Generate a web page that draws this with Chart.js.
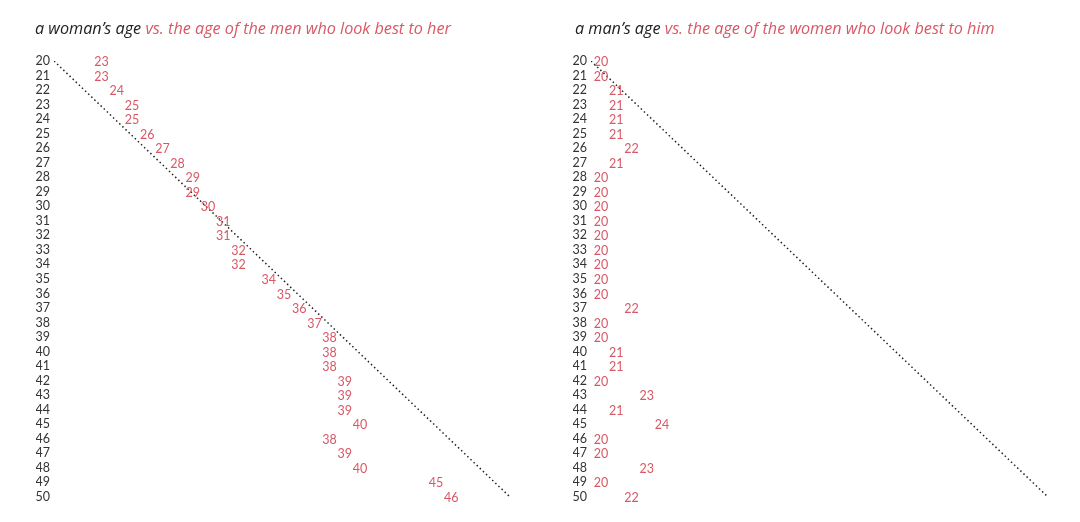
<!DOCTYPE html>
<html lang="en">
<head>
  <meta charset="UTF-8" />
  <title>Age preferences</title>
  <script src="https://cdn.jsdelivr.net/npm/chart.js"></script>
  <style>
    body {
      margin: 0;
      background: #fff;
      font-family: 'Open Sans', 'Noto Sans', sans-serif;
    }
    .panel {
      position: absolute;
      top: 0;
      width: 540px;
      height: 522px;
    }
    .panel canvas {
      position: absolute;
      left: 0;
      top: 0;
    }
    .title {
      position: absolute;
      top: 17px;
      font-size: 16.2px;
      font-style: italic;
      white-space: nowrap;
      color: #222;
    }
    .title span { color: #d95866; }
  </style>
</head>
<body>
  <div class="panel" style="left:0">
    <canvas id="womenChart" width="540" height="522"></canvas>
    <div class="title" style="left:35px">a woman’s age <span>vs. the age of the men who look best to her</span></div>
  </div>
  <div class="panel" style="left:540px">
    <canvas id="menChart" width="540" height="522"></canvas>
    <div class="title" style="left:35px">a man’s age <span>vs. the age of the women who look best to him</span></div>
  </div>

  <script>
    // own age (rows)
    const ages = [20, 21, 22, 23, 24, 25, 26, 27, 28, 29, 30, 31, 32, 33, 34, 35,
                  36, 37, 38, 39, 40, 41, 42, 43, 44, 45, 46, 47, 48, 49, 50];
    // age of men who look best to a woman of that age
    const menBestToWomen = [23, 23, 24, 25, 25, 26, 27, 28, 29, 29, 30, 31, 31, 32, 32, 34,
                            35, 36, 37, 38, 38, 38, 39, 39, 39, 40, 38, 39, 40, 45, 46];
    // age of women who look best to a man of that age
    const womenBestToMen = [20, 20, 21, 21, 21, 21, 22, 21, 20, 20, 20, 20, 20, 20, 20, 20,
                            20, 22, 20, 20, 21, 21, 20, 23, 21, 24, 20, 20, 23, 20, 22];
    // same-age reference line
    const diagonal = [20, 50];

    const RED = "#d95866";
    const INK = "#333";
    const NUM_FONT = "Lato, 'Noto Sans', sans-serif";

    // draws each value as a red number at its point
    const valueLabels = {
      id: "valueLabels",
      afterDatasetsDraw(chart, args, opts) {
        const ctx = chart.ctx;
        const meta = chart.getDatasetMeta(1);
        const values = chart.data.datasets[1].data;
        ctx.save();
        ctx.font = "12.5px " + NUM_FONT;
        ctx.fillStyle = RED;
        ctx.textAlign = "center";
        ctx.textBaseline = "middle";
        meta.data.forEach((pt, i) => {
          ctx.fillText(String(values[i].x), pt.x + (opts.shift || 0), pt.y + 1);
        });
        ctx.restore();
      }
    };

    function makeChart(id, values, pad, shift) {
      const ctx = document.getElementById(id).getContext("2d");
      return new Chart(ctx, {
        type: "scatter",
        data: {
          datasets: [{
            type: "line",
            data: diagonal.map(v => ({ x: v, y: v })),
            borderColor: "#222",
            borderWidth: 1.5,
            borderDash: [1.5, 2.8],
            pointRadius: 0,
            fill: false
          }, {
            data: ages.map((a, i) => ({ x: values[i], y: a })),
            pointRadius: 0,
            pointHoverRadius: 0
          }]
        },
        options: {
          responsive: false,
          animation: false,
          layout: { padding: pad },
          scales: {
            x: { type: "linear", min: 20, max: 50, display: false },
            y: {
              type: "linear",
              min: 20,
              max: 50,
              reverse: true,
              grid: { display: false, drawTicks: false },
              border: { display: false },
              afterFit(scale) { scale.width = 18; },
              ticks: {
                stepSize: 1,
                autoSkip: false,
                padding: 4,
                color: INK,
                font: { family: NUM_FONT, size: 12.5 }
              }
            }
          },
          plugins: {
            legend: { display: false },
            tooltip: { enabled: false },
            valueLabels: { shift }
          }
        },
        plugins: [valueLabels]
      });
    }

    makeChart("womenChart", menBestToWomen, { left: 36, top: 61, right: 30, bottom: 25 }, 2);
    makeChart("menChart", womenBestToMen, { left: 33, top: 61, right: 32, bottom: 25 }, 10);
  </script>
</body>
</html>
